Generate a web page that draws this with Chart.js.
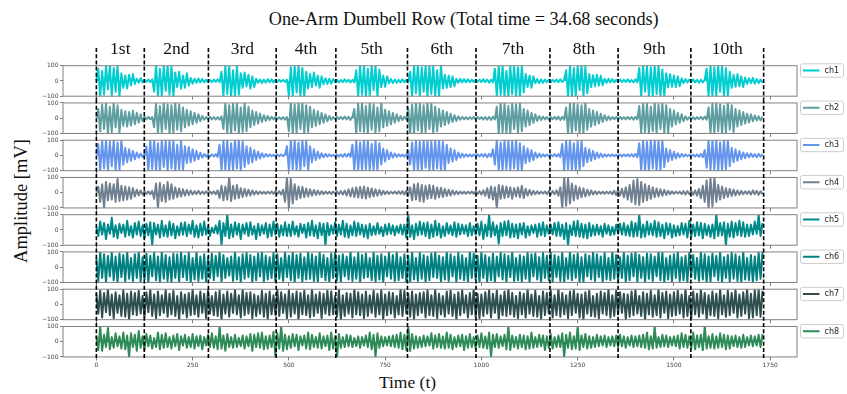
<!DOCTYPE html>
<html>
<head>
<meta charset="utf-8">
<script src="https://cdn.jsdelivr.net/npm/chart.js@4.4.0/dist/chart.umd.min.js"></script>
<style>
  html, body { margin: 0; padding: 0; background: #fff; }
  #wrap { position: relative; width: 847px; height: 394px; overflow: hidden; background: #fff; }
  #wrap canvas { position: absolute; left: 0; }
  .lbl { position: absolute; font-family: "Liberation Serif", serif; color: #111; white-space: nowrap; line-height: 1; }
  #title { left: 463.7px; top: 9.5px; font-size: 18.2px; transform: translateX(-50%); }
  #ylab { left: 21px; top: 201px; font-size: 18.5px; transform: translate(-50%, -50%) rotate(-90deg); }
  #xlab { left: 407.5px; top: 374px; font-size: 17.5px; transform: translateX(-50%); }
</style>
</head>
<body>
<div id="wrap">
  <div class="lbl" id="title">One-Arm Dumbell Row (Total time = 34.68 seconds)</div>
  <div class="lbl" id="ylab">Amplitude [mV]</div>
  <div class="lbl" id="xlab">Time (t)</div>
</div>
<script>
const channels = ['ch1', 'ch2', 'ch3', 'ch4', 'ch5', 'ch6', 'ch7', 'ch8'];
const colors = ['#00CED1', '#5F9EA0', '#6495ED', '#708090', '#008B8B', '#008080', '#2F4F4F', '#2E8B57'];
const repLabels = ['1st', '2nd', '3rd', '4th', '5th', '6th', '7th', '8th', '9th', '10th'];
const repBounds = [0, 124.5, 291, 467, 622, 808, 986, 1178, 1355, 1544, 1733];
const xTicks = [0, 250, 500, 750, 1000, 1250, 1500, 1750];
const yTicks = [-100, 0, 100];
const sampleStep = 5; // one value every 5 samples

const ch1 = [
  5, 80, -100, 65, -90, 100, -55, 100, -100, 85, -70, 100, -100, 50, -45, 35, -50, 40, -30, 45,
  -20, 15, -12, 18, -10, 8, -6, 9, -7, 10, -70, 100, -100, 80, -100, 100, -65, 100, -90, 100,
  -100, 55, -40, 60, -50, 35, -45, 50, -30, 20, -18, 15, -12, 16, -10, 12, -9, 8, -7, 6,
  -8, 9, -6, 10, -8, 60, -100, 100, -85, 100, -100, 70, -100, 100, -90, 50, -45, 55, -35, 40,
  -50, 30, -40, 15, -12, 10, -14, 9, -11, 12, -8, 10, -9, 7, -6, 8, -5, 7, -6, 8,
  -100, 90, -100, 100, -75, 100, -100, 85, -100, 60, -50, 45, -40, 55, -30, 35, -45, 30, -22, 18,
  -20, 15, -18, 12, -8, 7, -9, 6, -8, 10, -7, 8, -9, 7, -10, 70, -100, 100, -90, 100,
  -100, 80, -100, 100, -60, 100, -100, 75, -40, 35, -38, 30, -15, 12, -14, 10, -12, 8, -9, 10,
  -8, 7, -9, 60, -100, 100, -80, 100, -100, 90, -70, 100, -100, 100, -85, 95, -100, 70, -100, 100,
  -50, 40, -45, 35, -40, 30, -35, 15, -12, 14, -10, 12, -9, 10, -8, 9, -7, 8, -6, 9,
  -7, 10, -8, 9, -11, 8, -10, 80, -100, 100, -90, 100, -100, 65, -100, 100, -85, 100, -100, 90,
  -100, 100, -75, 45, -40, 35, -45, 30, -15, 12, -14, 10, -12, 9, -8, 7, -9, 8, -6, 9,
  -8, 10, -7, 9, 70, -100, 100, -100, 85, -100, 100, -60, 100, -100, 95, -80, 45, -40, 38, -35,
  40, -30, 35, -28, 15, -12, 14, -10, 12, -9, 8, -7, 9, -6, 8, -7, 10, -8, 6, -9,
  10, -8, 85, -100, 100, -70, 100, -100, 90, -100, 100, -85, 100, -100, 75, -100, 50, -42, 45, -38,
  35, -40, 30, -35, 16, -14, 12, -10, 9, -8, 10, -9, 7, -11, 8, -10, 9, 80, -100, 100,
  -100, 90, -100, 100, -70, 100, -100, 85, -100, 60, -45, 40, -38, 45, -35, 30, -40, 22, -20, 18,
  -15, 20, -18, 12, -14, 10, -12
];
const ch2 = [
  5, 60, -85, 90, -70, 95, -100, 75, -90, 100, -60, 85, -95, 55, -50, 45, -55, 40, -48, 50,
  -40, 35, -30, 25, -20, 10, -8, 9, -7, 8, -60, 95, -100, 80, -90, 100, -70, 90, -100, 85,
  -95, 100, -75, 90, -85, 70, -60, 55, -50, 45, -40, 35, -30, 25, -20, 15, -10, 8, -7, 9,
  -8, 7, -9, 8, -10, 12, -70, 100, -95, 85, -100, 100, -80, 95, -100, 70, -90, 100, -85, 75,
  -60, 50, -45, 40, -35, 30, -25, 20, -18, 15, -12, 10, -8, 9, -7, 6, -8, 7, -9, 8,
  -85, 100, -100, 90, -95, 100, -70, 100, -100, 85, -90, 75, -60, 55, -50, 45, -40, 35, -30, 25,
  -20, 15, -10, 8, -7, 9, -6, 8, -7, 10, -8, 9, -12, 10, 60, -100, 95, -85, 100, -90,
  80, -100, 100, -75, 90, -95, 70, -85, 100, -60, 55, -50, 45, -40, 35, -30, 25, -20, 15, -12,
  10, -8, 65, -100, 90, -100, 100, -80, 95, -100, 85, -90, 100, -70, 95, -100, 75, -85, 60, -55,
  50, -45, 40, -35, 30, -25, 20, -18, 12, -10, 8, -7, 6, -8, 7, -6, 9, -7, 8, -6,
  7, -9, 8, -10, 9, -12, 10, -8, 75, -100, 100, -90, 95, -100, 80, -100, 100, -70, 90, -95,
  100, -85, 60, -55, 50, -45, 35, -30, 25, -18, 15, -12, 10, -8, 7, -9, 8, -7, 9, -8,
  10, -12, 9, -10, 70, -100, 95, -100, 100, -80, 90, -100, 85, -95, 100, -75, 60, -55, 50, -45,
  40, -35, 30, -25, 20, -15, 12, -10, 8, -7, 9, -6, 8, -7, 6, -8, 9, -7, 8, -10,
  9, -8, 80, -100, 100, -90, 95, -100, 75, -85, 100, -100, 90, -70, 100, -95, 85, -100, 60, -55,
  50, -40, 35, -30, 25, -20, 12, -10, 8, -7, 6, -8, 7, -6, 9, -8, 10, -9, 70, -100,
  95, -100, 100, -85, 90, -100, 80, -95, 100, -75, 85, -90, 60, -55, 50, -45, 40, -35, 30, -28,
  25, -20, 18, -15, 12, -14, 10
];
const ch3 = [
  8, 75, -100, 100, -85, 100, -100, 90, -70, 100, -100, 85, -95, 100, -60, 50, -45, 40, -35, 30,
  -25, 20, -15, 12, -10, 8, 60, -100, 100, -90, 100, -100, 80, -100, 100, -75, 95, -100, 100, -85,
  100, -100, 70, -90, 100, -95, 60, -50, 55, -45, 40, -35, 30, -25, 18, -15, 10, -8, 7, -9,
  8, -7, 9, -10, 70, -100, 100, -95, 100, -100, 80, -100, 100, -85, 100, -100, 90, -75, 60, -55,
  50, -45, 35, -30, 25, -20, 15, -12, 10, -8, 7, -6, 5, -7, 6, -5, 7, -6, 8, 60,
  -100, 100, -90, 100, -100, 85, -100, 100, -70, 95, -100, 60, -45, 40, -30, 25, -20, 15, -12, 10,
  -8, 7, -6, 5, -7, 6, -8, 7, -9, 10, -8, 12, -10, 70, -100, 100, -100, 85, -100, 100,
  -90, 100, -100, 75, -100, 95, -100, 80, -60, 45, -40, 35, -25, 20, -15, 12, -10, 8, -7, 6,
  -8, 7, 30, -60, 85, -100, 100, -100, 90, -100, 100, -80, 100, -100, 95, -100, 100, -85, 100, -100,
  90, -100, 70, -50, 45, -40, 35, -30, 20, -15, 12, -10, 8, -7, 6, -8, 7, -6, 8, -7,
  9, -8, 10, -12, 11, -9, 40, -60, 100, -100, 85, -100, 100, -90, 100, -100, 95, -85, 100, -100,
  80, -100, 60, -50, 45, -40, 35, -30, 20, -15, 12, -10, 8, -7, 6, -5, 7, -6, 8, -7,
  9, -12, 75, -100, 100, -90, 100, -100, 80, -100, 95, -100, 100, -70, 50, -45, 40, -35, 30, -25,
  20, -15, 12, -10, 8, -7, 6, -5, 7, -6, 5, -7, 6, -8, 7, -6, 8, -7, 9, -8,
  10, -12, 80, -100, 100, -100, 90, -100, 100, -85, 100, -100, 95, -100, 100, -75, 45, -40, 35, -30,
  25, -20, 15, -12, 10, -8, 7, -6, 5, -7, 6, -8, 7, -9, 10, -12, 35, -80, 100, -100,
  100, -95, 100, -100, 85, -100, 100, -90, 100, -70, 50, -45, 40, -35, 30, -25, 20, -18, 15, -12,
  12, -10, 9, -11, 10, -8, 9
];
const ch4 = [
  5, 40, -60, 55, -100, 70, -50, 60, -45, 55, -60, 90, -55, 45, -50, 40, -45, 35, -40, 30,
  -25, 20, -18, 15, -12, 10, -8, 9, -10, 12, -40, 60, -100, 65, -55, 50, -60, 70, -45, 55,
  -40, 35, -30, 28, -25, 22, -20, 18, -15, 14, -12, 10, -9, 12, -10, 8, -7, 9, -6, 8,
  -7, 9, -10, 15, -35, 45, -50, 40, -45, 100, -55, 45, -40, 50, -35, 30, -28, 25, -22, 20,
  -18, 15, -12, 10, -9, 8, -7, 6, -8, 7, -6, 8, -7, 9, -8, 10, -12, 20, -60, 100,
  -100, 90, -70, 55, -45, 40, -35, 38, -30, 28, -25, 22, -20, 18, -15, 14, -12, 10, -9, 8,
  -7, 6, -8, 7, -6, 8, -9, 10, -12, 14, -18, 22, -25, 30, -28, 35, -32, 38, -35, 40,
  -38, 32, -30, 28, -25, 22, -20, 18, -15, 12, -10, 9, -8, 7, -6, 8, -7, 9, -8, 10,
  -12, 14, -20, 35, -50, 55, -45, 60, -55, 50, -60, 45, -40, 50, -35, 45, -40, 35, -30, 32,
  -28, 25, -22, 20, -18, 15, -12, 10, -9, 8, -7, 6, -8, 7, -6, 8, -7, 9, -8, 10,
  -12, 15, -20, 30, -35, 40, -45, 35, -100, 50, -40, 45, -35, 40, -30, 35, -40, 30, -25, 35,
  -30, 45, -35, 25, -20, 18, -15, 12, -10, 9, -8, 7, -6, 8, -9, 10, -12, 11, -10, 15,
  -20, 35, -100, 100, -85, 95, -70, 60, -50, 45, -40, 35, -30, 28, -25, 20, -18, 15, -12, 10,
  -9, 8, -7, 6, -8, 7, -6, 8, -10, 12, -15, 18, -20, 25, -30, 35, -45, 50, -60, 80,
  -75, 90, -80, 70, -60, 55, -50, 45, -40, 35, -30, 28, -25, 22, -20, 18, -15, 12, -10, 9,
  -8, 7, -6, 8, -9, 10, -12, 11, -10, 12, -14, 15, -20, 25, -35, 45, -60, 80, -100, 95,
  -90, 100, -60, 50, -45, 40, -35, 30, -28, 25, -22, 20, -18, 15, -14, 12, -10, 9, -8, 10,
  -12, 15, -10, 12, -14, 10, -9
];
const ch5 = [
  20, -40, 55, -30, 45, -60, 35, -25, 80, -45, 30, -55, 40, -20, 35, -45, 60, -35, 25, -50,
  45, -30, 55, -40, 30, -55, 40, -35, 50, -100, 45, -30, 35, -50, 60, -40, 30, -45, 55, -35,
  40, -55, 25, -35, 45, -30, 50, -40, 35, -25, 60, -45, 30, -50, 40, -35, 55, -30, 25, -40,
  15, -20, 30, -25, 60, -100, 45, -40, 100, -55, 35, -45, 50, -30, 40, -60, 35, -25, 45, -40,
  50, -30, 25, -60, 40, -35, 30, -25, 45, -50, 35, -40, 55, -30, 40, -45, 30, -35, 50, -40,
  35, -40, 55, -30, 25, -45, 40, -20, 35, -50, 45, -35, 60, -40, 30, -55, 45, -35, 40, -100,
  45, -35, 30, -25, 50, -40, 35, -30, 60, -45, 40, -50, 30, -35, 55, -40, 45, -30, 35, -45,
  30, -55, 40, -35, 25, -30, 45, -25, 20, -40, 35, -30, 40, -25, 30, -35, 25, -20, 35, -30,
  35, -50, 100, -45, 30, -60, 40, -35, 55, -30, 45, -40, 50, -55, 35, -45, 60, -35, 40, -50,
  25, -40, 45, -25, 30, -35, 50, -45, 40, -30, 35, -25, 30, -40, 45, -35, 25, -30, 40, -35,
  55, -60, 35, -40, 100, -45, 50, -35, 30, -90, 45, -40, 55, -35, 60, -50, 40, -45, 35, -55,
  40, -30, 45, -50, 25, -35, 30, -20, 35, -45, 40, -35, 50, -40, 30, -25, 35, -30, 45, -40,
  50, -40, 35, -60, 45, -100, 30, -35, 55, -40, 60, -45, 40, -50, 35, -55, 45, -40, 30, -35,
  35, -30, 25, -45, 40, -25, 30, -35, 20, -30, 35, -25, 40, -30, 45, -35, 30, -40, 55, -45,
  45, -40, 100, -50, 35, -45, 55, -30, 40, -35, 60, -45, 50, -40, 35, -55, 45, -30, 40, -50,
  30, -40, 25, -35, 45, -30, 40, -50, 60, -45, 35, -40, 50, -35, 45, -55, 40, -35, 30, -45,
  35, -55, 100, -40, 45, -35, 50, -100, 40, -45, 55, -50, 45, -35, 60, -40, 50, -45, 35, -40,
  35, -30, 55, -25, 100, -40, 45
];
const ch6 = [
  60, -90, 100, -70, 85, -100, 75, -60, 95, -85, 70, -100, 90, -65, 80, -95, 100, -75, 60, -90,
  85, -70, 100, -95, 65, -80, 90, -100, 75, -60, 95, -85, 70, -100, 100, -75, 80, -90, 65, -100,
  90, -70, 85, -95, 100, -65, 75, -85, 95, -100, 60, -80, 100, -90, 70, -75, 85, -100, 65, -70,
  90, -85, 75, -60, 100, -95, 80, -70, 60, -55, 70, -90, 100, -80, 65, -100, 85, -75, 95, -65,
  80, -100, 70, -85, 90, -60, 100, -95, 75, -80, 65, -70, 95, -100, 85, -75, 60, -90, 100, -65,
  75, -85, 100, -100, 80, -70, 90, -95, 65, -80, 100, -75, 85, -90, 70, -100, 95, -65, 80, -85,
  60, -100, 90, -70, 100, -85, 75, -95, 85, -60, 70, -80, 100, -90, 65, -75, 95, -100, 80, -70,
  90, -65, 60, -85, 100, -95, 75, -80, 85, -100, 70, -60, 95, -75, 80, -90, 100, -85, 65, -70,
  85, -100, 75, -95, 100, -80, 60, -90, 95, -75, 80, -100, 70, -85, 90, -65, 100, -70, 75, -95,
  65, -80, 100, -90, 85, -60, 70, -100, 95, -75, 80, -85, 60, -95, 100, -70, 90, -80, 75, -100,
  100, -70, 80, -95, 65, -85, 90, -100, 70, -60, 95, -80, 85, -100, 75, -65, 100, -90, 60, -85,
  80, -95, 70, -75, 100, -100, 85, -60, 90, -80, 65, -100, 95, -70, 75, -85, 100, -95, 80, -65,
  70, -90, 95, -100, 60, -75, 100, -85, 80, -70, 90, -95, 65, -100, 85, -60, 75, -80, 100, -90,
  85, -65, 70, -100, 95, -80, 60, -85, 100, -75, 80, -90, 65, -70, 95, -100, 75, -85, 90, -60,
  100, -95, 80, -70, 65, -100, 90, -75, 85, -90, 70, -60, 100, -85, 95, -100, 60, -80, 75, -95,
  85, -70, 100, -90, 65, -85, 75, -100, 95, -65, 80, -75, 60, -90, 100, -80, 85, -100, 70, -95,
  90, -60, 75, -85, 100, -100, 65, -70, 80, -95, 95, -75, 85, -90, 70, -100, 100, -80, 60, -85,
  80, -100, 70, -85, 95, -75, 100
];
const ch7 = [
  70, -60, 90, -85, 75, -50, 100, -70, 65, -90, 80, -55, 60, -75, 95, -80, 70, -100, 85, -65,
  75, -70, 90, -60, 55, -85, 80, -50, 100, -75, 65, -90, 85, -70, 60, -55, 95, -80, 70, -65,
  90, -75, 55, -100, 80, -60, 65, -85, 75, -70, 100, -65, 60, -80, 85, -55, 70, -90, 95, -60,
  55, -70, 80, -75, 90, -100, 65, -60, 85, -80, 70, -55, 95, -65, 60, -85, 100, -70, 75, -60,
  80, -90, 65, -75, 55, -60, 90, -80, 70, -95, 85, -65, 60, -70, 100, -75, 80, -55, 65, -90,
  95, -80, 70, -60, 85, -100, 75, -65, 90, -70, 60, -85, 100, -75, 65, -55, 80, -90, 70, -60,
  90, -70, 85, -65, 55, -80, 95, -100, 60, -75, 75, -60, 70, -85, 100, -65, 80, -70, 65, -90,
  85, -75, 60, -55, 90, -80, 70, -65, 95, -100, 65, -70, 80, -60, 75, -85, 55, -65, 100, -75,
  90, -60, 70, -80, 85, -95, 65, -70, 75, -55, 80, -85, 95, -70, 60, -75, 100, -90, 70, -65,
  55, -80, 85, -60, 90, -75, 65, -100, 80, -70, 95, -55, 60, -85, 75, -65, 100, -80, 70, -90,
  65, -75, 80, -60, 95, -85, 70, -55, 90, -100, 60, -70, 85, -75, 100, -65, 75, -80, 55, -90,
  80, -65, 70, -85, 100, -60, 65, -75, 90, -80, 55, -95, 85, -70, 75, -60, 95, -85, 60, -70,
  100, -80, 75, -65, 60, -90, 85, -70, 95, -55, 70, -85, 65, -100, 80, -60, 90, -75, 55, -80,
  70, -90, 85, -60, 75, -70, 100, -85, 60, -75, 90, -65, 80, -55, 70, -95, 65, -80, 85, -70,
  95, -60, 55, -75, 80, -100, 70, -65, 90, -80, 60, -70, 100, -85, 75, -55, 85, -90, 65, -75,
  80, -70, 90, -60, 65, -85, 100, -75, 55, -90, 85, -65, 70, -80, 95, -60, 75, -100, 60, -70,
  85, -75, 70, -90, 100, -65, 60, -80, 90, -70, 75, -55, 95, -85, 65, -75, 80, -60, 100, -90,
  70, -85, 95, -70, 100, -80, 90
];
const ch8 = [
  40, -55, 100, -60, 45, -35, 90, -50, 30, -40, 55, -30, 35, -45, 60, -50, 40, -100, 55, -35,
  45, -60, 70, -40, 35, -55, 50, -30, 40, -45, 25, -35, 60, -50, 45, -40, 55, -35, 30, -45,
  40, -30, 50, -55, 35, -25, 45, -40, 30, -35, 50, -45, 35, -30, 40, -50, 30, -25, 45, -35,
  55, -40, 35, -50, 100, -45, 40, -60, 50, -35, 30, -40, 45, -35, 25, -30, 40, -45, 35, -30,
  50, -60, 45, -35, 55, -40, 60, -50, 35, -45, 40, -35, 65, -100, 55, -45, 100, -60, 45, -50,
  35, -40, 50, -30, 45, -55, 35, -25, 40, -45, 60, -50, 45, -35, 30, -40, 55, -45, 35, -30,
  40, -55, 60, -45, 35, -100, 50, -40, 30, -35, 45, -30, 40, -35, 25, -30, 35, -40, 30, -25,
  40, -35, 60, -50, 45, -100, 55, -40, 35, -30, 30, -25, 35, -30, 40, -35, 45, -40, 60, -50,
  45, -55, 100, -60, 50, -45, 35, -40, 30, -35, 40, -30, 35, -25, 55, -45, 40, -35, 50, -40,
  35, -45, 60, -40, 45, -50, 30, -35, 40, -30, 45, -55, 35, -40, 50, -35, 30, -45, 40, -35,
  55, -40, 35, -45, 60, -100, 45, -35, 50, -40, 35, -30, 45, -50, 100, -55, 40, -35, 30, -45,
  45, -35, 40, -50, 35, -45, 60, -40, 30, -35, 45, -30, 40, -55, 35, -40, 50, -45, 30, -35,
  40, -35, 55, -100, 45, -40, 60, -50, 35, -45, 100, -55, 40, -35, 50, -45, 35, -40, 30, -35,
  45, -30, 35, -25, 40, -35, 30, -25, 35, -30, 40, -35, 45, -30, 35, -40, 30, -25, 40, -35,
  35, -30, 40, -35, 45, -40, 60, -50, 35, -45, 100, -40, 30, -35, 45, -30, 40, -35, 30, -25,
  35, -30, 40, -45, 55, -35, 45, -40, 35, -45, 60, -50, 40, -35, 45, -55, 100, -45, 35, -40,
  50, -45, 35, -40, 55, -35, 45, -50, 40, -45, 35, -30, 40, -35, 30, -40, 45, -35, 30, -25,
  40, -30, 35, -25, 45, -35, 50
];
const series = [ch1, ch2, ch3, ch4, ch5, ch6, ch7, ch8];

// layout (px)
const W = 847, H = 394;
const plotLeft = 63, plotRight = 797;
const rowTop0 = 65.7, rowPitch = 37.25, rowH = 30.5;
const xMin = -86.65, xMax = 1819.65;

const wrap = document.getElementById('wrap');

const framePlugin = {
  id: 'frame',
  afterDatasetsDraw(chart, args, o) {
    const { ctx, chartArea: a, scales: { x } } = chart;
    ctx.save();
    // axes frame
    ctx.strokeStyle = '#808080';
    ctx.lineWidth = 1;
    ctx.strokeRect(a.left, a.top, a.right - a.left, a.bottom - a.top);
    // repetition boundaries
    const gap = (rowPitch - rowH) / 2;
    const y0 = o.first ? 48 : a.top - gap;
    const y1 = o.last ? a.bottom + 1 : a.bottom + gap;
    ctx.strokeStyle = '#000';
    ctx.lineWidth = 1.6;
    ctx.setLineDash([4, 2.2]);
    repBounds.forEach(b => {
      const px = x.getPixelForValue(b);
      ctx.beginPath();
      ctx.moveTo(px, y0);
      ctx.lineTo(px, y1);
      ctx.stroke();
    });
    ctx.setLineDash([]);
    // repetition names
    if (o.first) {
      ctx.fillStyle = '#111';
      ctx.font = '17.5px "Liberation Serif", serif';
      ctx.textAlign = 'center';
      ctx.textBaseline = 'alphabetic';
      repLabels.forEach((t, i) => {
        const px = x.getPixelForValue((repBounds[i] + repBounds[i + 1]) / 2);
        ctx.fillText(t, px, 53.5);
      });
    }
    // legend box
    const lx = 800, ly = a.top - 2.4, lw = 43, lh = 13.4;
    ctx.fillStyle = '#fff';
    ctx.strokeStyle = '#cccccc';
    ctx.lineWidth = 1;
    ctx.beginPath();
    ctx.roundRect(lx + 0.5, ly + 0.5, lw, lh, 2);
    ctx.fill();
    ctx.stroke();
    ctx.strokeStyle = o.color;
    ctx.lineWidth = 2;
    ctx.beginPath();
    ctx.moveTo(lx + 3, ly + lh / 2 + 0.5);
    ctx.lineTo(lx + 19.5, ly + lh / 2 + 0.5);
    ctx.stroke();
    ctx.fillStyle = '#222';
    ctx.font = '8px "DejaVu Sans", sans-serif';
    ctx.textAlign = 'left';
    ctx.textBaseline = 'middle';
    ctx.fillText(o.name, lx + 24.5, ly + lh / 2 + 0.8);
    ctx.restore();
  }
};

channels.forEach((name, i) => {
  const first = i === 0, last = i === channels.length - 1;
  const rowTop = rowTop0 + i * rowPitch;
  const cTop = first ? 0 : Math.floor(rowTop) - 8;
  const cH = last ? H - cTop : Math.ceil(rowTop + rowH + 8) - cTop;
  const padTop = rowTop - cTop;
  const padBottom = cH - padTop - rowH;

  const cv = document.createElement('canvas');
  cv.width = W; cv.height = cH;
  cv.style.top = cTop + 'px';
  cv.style.width = W + 'px'; cv.style.height = cH + 'px';
  wrap.appendChild(cv);

  const pts = series[i].map((v, k) => ({ x: k * sampleStep, y: v }));

  new Chart(cv.getContext('2d'), {
    type: 'line',
    data: {
      datasets: [{
        label: name,
        data: pts,
        borderColor: colors[i],
        backgroundColor: colors[i],
        borderWidth: 2,
        borderJoinStyle: 'round',
        pointRadius: 0,
        tension: 0,
        fill: 'origin',
        clip: 0
      }]
    },
    options: {
      responsive: false,
      animation: false,
      devicePixelRatio: 1,
      events: [],
      layout: { padding: { left: 0, right: W - plotRight, top: padTop, bottom: last ? 0 : padBottom } },
      plugins: {
        legend: { display: false },
        tooltip: { enabled: false },
        frame: { first, last, color: colors[i], name }
      },
      scales: {
        x: {
          type: 'linear',
          min: xMin, max: xMax,
          afterBuildTicks: s => { s.ticks = xTicks.map(v => ({ value: v })); },
          afterFit: s => { s.height = last ? padBottom : 0; },
          border: { display: false },
          grid: { drawOnChartArea: false, drawTicks: true, tickLength: 3.5, color: '#808080', lineWidth: 1 },
          ticks: { display: last, autoSkip: false, maxRotation: 0, padding: 1.5, color: '#444',
            font: { family: 'DejaVu Sans', size: 6 }, callback: v => String(v) }
        },
        y: {
          min: -100, max: 100,
          afterBuildTicks: s => { s.ticks = yTicks.map(v => ({ value: v })); },
          afterFit: s => { s.width = plotLeft; },
          border: { display: false },
          grid: { drawOnChartArea: false, drawTicks: true, tickLength: 3, color: '#808080', lineWidth: 1 },
          ticks: { padding: 1.5, color: '#444', font: { family: 'DejaVu Sans', size: 6 },
            callback: v => String(v).replace('-', '\u2212') }
        }
      }
    },
    plugins: [framePlugin]
  });
});
</script>
</body>
</html>
